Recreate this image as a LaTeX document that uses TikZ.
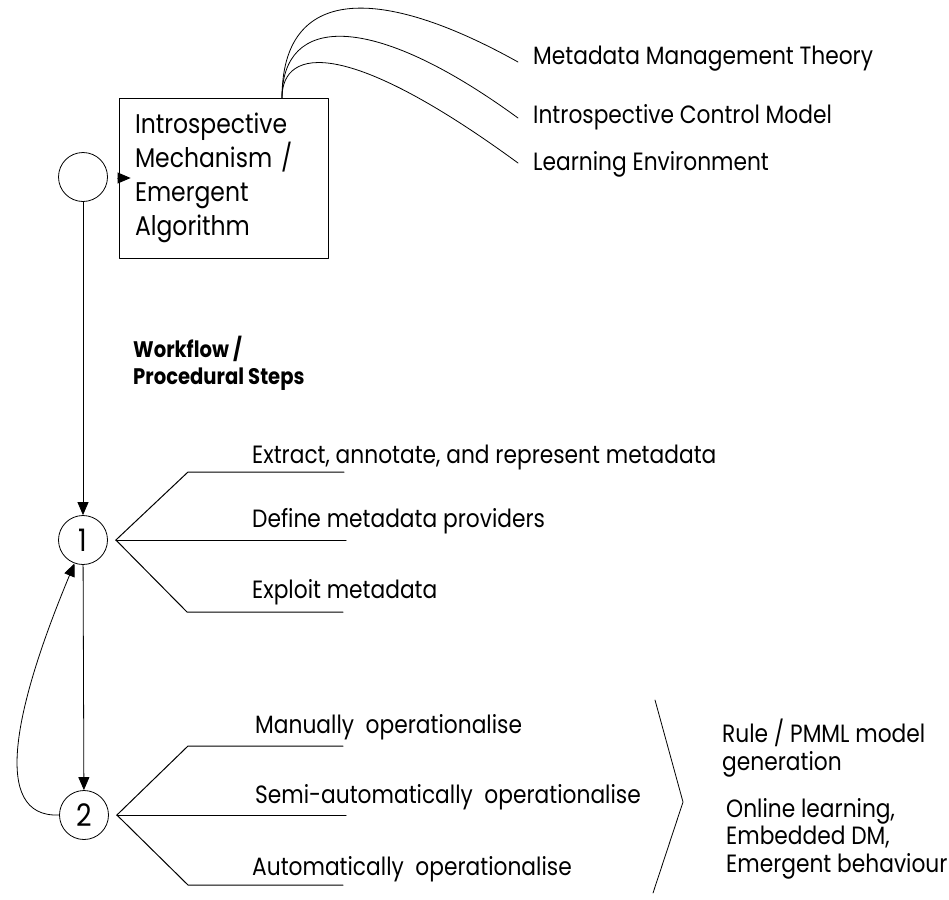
\documentclass[tikz,border=0pt]{standalone}
\usepackage{fontspec}
\setmainfont[FakeStretch=0.87]{Poppins}
\usetikzlibrary{arrows.meta, calc}

\begin{document}
\begin{tikzpicture}[x=1pt,y=-1pt,line cap=round,line join=round,
  >={Triangle[length=13pt,width=11pt]},
  stage/.style={circle,draw,line width=0.8pt,minimum size=49pt,inner sep=0pt,font=\fontsize{31}{31}\selectfont},
  item/.style={anchor=base west,inner sep=0pt,font=\fontsize{25}{27.5}\selectfont},
  branch/.style={line width=1pt}]
\useasboundingbox (0,0) rectangle (949,899);

\node[stage] (s0) at (83,177) {};
\node[stage] (s1) at (83,540) {1};
\node[stage] (s2) at (84,815) {2};

\node[draw,line width=0.8pt,minimum width=209pt,minimum height=160pt,text width=177pt,inner xsep=16pt,
  align=left,font=\fontsize{27}{34}\selectfont] (mech) at (223.5,178) {Introspective\\Mechanism /\\Emergent\\Algorithm};

\coordinate (tip) at ($(mech.west)+(12,0)$);
\draw[line width=0.8pt,->] (mech.west) -- (tip);

% theory behind the mechanism
\coordinate (root) at (282,98);
\node[item] (t1) at (533,64) {Metadata Management Theory};
\node[item] (t2) at (533,123) {Introspective Control Model};
\node[item] (t3) at (533,170) {Learning Environment};
\coordinate (e1) at (518,62);
\coordinate (e2) at (518,118);
\coordinate (e3) at (518,163);
\draw[line width=0.8pt] (root) .. controls (282,-15) and (380,-15) .. (e1);
\draw[line width=0.8pt] (root) .. controls (282,15) and (370,10) .. (e2);
\draw[line width=0.8pt] (root) .. controls (282,45) and (350,40) .. (e3);

\node[item,font=\fontsize{22.5}{27}\selectfont\bfseries] (wf1) at (133,357) {Workflow /};
\node[item,font=\fontsize{22.5}{27}\selectfont\bfseries] (wf2) at (133,384) {Procedural Steps};

\draw[line width=0.8pt,->] (s0) -- (s1);
\draw[line width=0.8pt,->] (s1) -- (s2);
\draw[line width=0.8pt,->] (s2.west) .. controls (-10,818) and (15,706) .. (s1.250);

% step 1
\coordinate (j1) at ($(s1.east)+(8,0)$);
\draw[branch] (j1) -- (188,472) -- (344,472);
\draw[branch] (j1) -- (346,540);
\draw[branch] (j1) -- (187,612) -- (343,612);
\node[item] (a1) at (252,463) {Extract, annotate, and represent metadata};
\node[item] (a2) at (252,527) {Define metadata providers};
\node[item] (a3) at (252,598) {Exploit metadata};

% step 2
\coordinate (j2) at ($(s2.east)+(8,0)$);
\draw[branch] (j2) -- (188,746) -- (343,746);
\draw[branch] (j2) -- (346,815);
\draw[branch] (j2) -- (188,885) -- (343,885);
\node[item] (b1) at (255,733) {Manually\ \ operationalise};
\node[item] (b2) at (255,803) {Semi-automatically\ \ operationalise};
\node[item] (b3) at (252,875) {Automatically\ \ operationalise};

\draw[line width=0.8pt] (655,700) -- (683,802) -- (653,893);
\node[item,align=left] (r1) at (722,770) {Rule / PMML model\\generation};
\node[item,align=left] (r2) at (726,872) {Online learning,\\Embedded DM,\\Emergent behaviour};
\end{tikzpicture}
\end{document}
